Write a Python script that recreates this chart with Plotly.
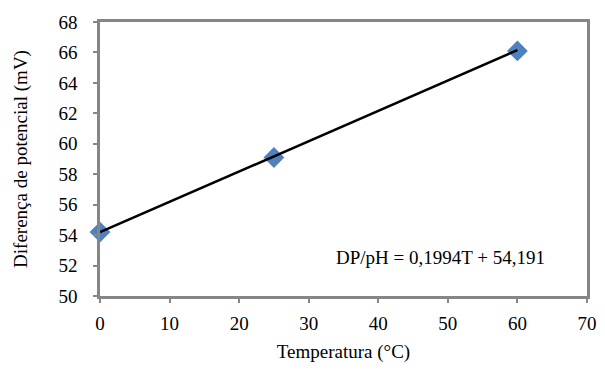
import plotly.graph_objects as go

temps = [0, 25, 60]
dp_values = [54.2, 59.1, 66.1]
slope = 0.1994
intercept = 54.191
fit_range = [0, 60]
x_ticks = [0, 10, 20, 30, 40, 50, 60, 70]
y_ticks = [50, 52, 54, 56, 58, 60, 62, 64, 66, 68]

FONT = "Liberation Serif"
GRAY = "#868686"
FS = 19

fig = go.Figure()
fig.add_trace(go.Scatter(
    x=temps, y=dp_values, mode="markers",
    marker=dict(symbol="diamond", size=16, color="#4F81BD"),
    showlegend=False, cliponaxis=False,
))
fig.add_trace(go.Scatter(
    x=fit_range, y=[slope * t + intercept for t in fit_range], mode="lines",
    line=dict(color="black", width=2.5), showlegend=False, cliponaxis=False,
))

fig.add_annotation(
    x=0.70, y=0.139, xref="paper", yref="paper", xanchor="center", yanchor="middle",
    text="DP/pH = 0,1994T + 54,191", showarrow=False,
    font=dict(family=FONT, size=FS, color="black"),
)

fig.update_layout(
    width=589, height=358,
    margin=dict(l=92, r=10, t=14, b=70),
    paper_bgcolor="white", plot_bgcolor="white",
    font=dict(family=FONT, size=FS, color="black"),
)
fig.update_xaxes(
    range=[0, 70], tickvals=x_ticks, showgrid=False, zeroline=False, automargin=False,
    showline=True, linecolor=GRAY, linewidth=2.5, mirror=True,
    ticks="outside", ticklen=4, tickwidth=2, tickcolor=GRAY,
    tickfont=dict(family=FONT, size=FS, color="black"), ticklabelstandoff=4,
    title=dict(text="Temperatura (°C)", font=dict(family=FONT, size=FS), standoff=13),
)
fig.update_yaxes(
    range=[50, 68], tickvals=y_ticks, showgrid=False, zeroline=False, automargin=False,
    showline=True, linecolor=GRAY, linewidth=2.5, mirror=True,
    ticks="outside", ticklen=4, tickwidth=2, tickcolor=GRAY,
    tickfont=dict(family=FONT, size=FS, color="black"), ticklabelstandoff=12,
    title=dict(text="Diferença de potencial (mV)", font=dict(family=FONT, size=FS), standoff=26),
)

fig.write_html("out.html")
